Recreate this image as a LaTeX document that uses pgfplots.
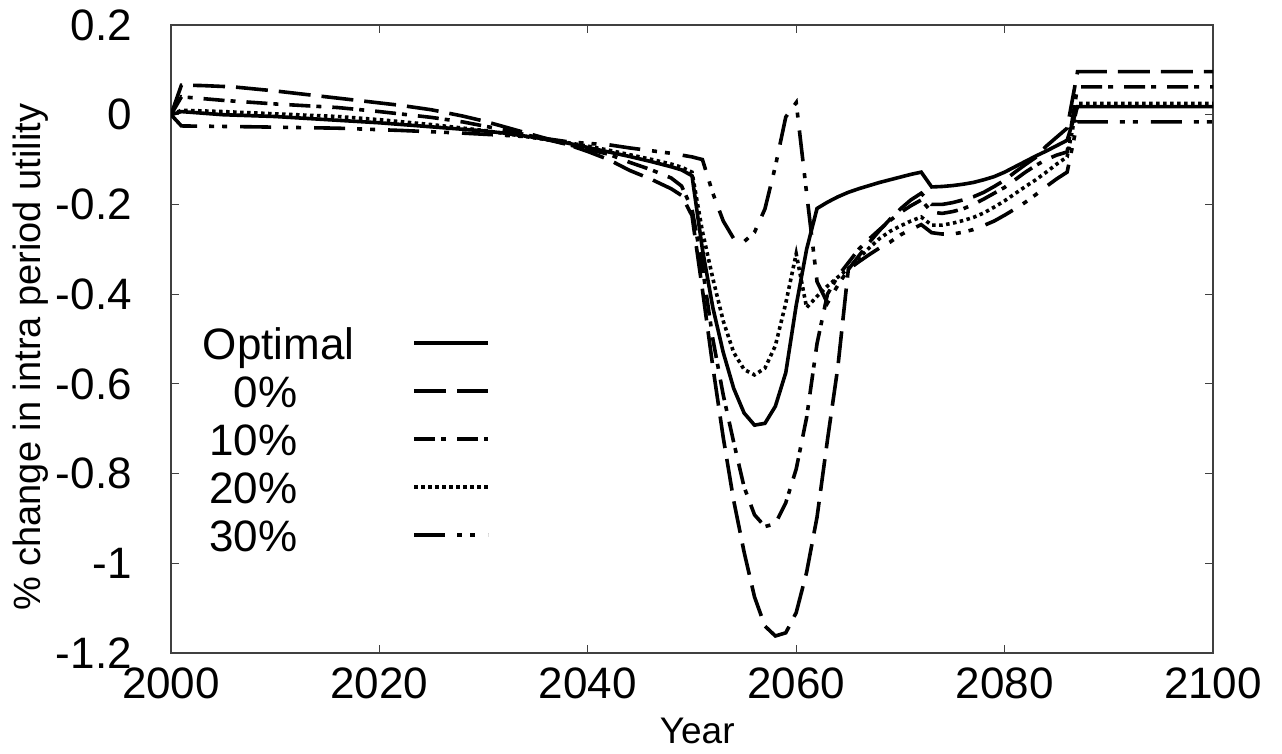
\documentclass[border=0pt]{standalone}
\usepackage{fontspec}
\setmainfont{Liberation Sans}
\usepackage{pgfplots}
\pgfplotsset{compat=1.18}

\begin{document}
\begin{tikzpicture}
\begin{axis}[
  at={(171pt,-653pt)}, anchor=south west,
  width=1042pt, height=628pt, scale only axis,
  xmin=2000, xmax=2100, ymin=-1.2, ymax=0.2,
  xtick={2000,2020,2040,2060,2080,2100},
  xticklabels={2000,2020,2040,2060,2080,2100},
  ytick={-1.2,-1,-0.8,-0.6,-0.4,-0.2,0,0.2},
  yticklabels={-1.2,-1,-0.8,-0.6,-0.4,-0.2,0,0.2},
  tick align=inside,
  major tick length=8pt,
  tick style={line width=1.2pt, black!75},
  axis line style={line width=1.5pt, black!75},
  xticklabel style={font=\fontsize{44}{50}\selectfont, inner sep=0pt, yshift=-15pt},
  yticklabel style={font=\fontsize{44}{50}\selectfont, inner sep=0pt, xshift=-39pt},
  xlabel={Year},
  ylabel={\% change in intra period utility},
  xlabel style={font=\fontsize{37}{42}\selectfont, at={(axis description cs:0.505,-0.1245)}, anchor=center, inner sep=0pt},
  ylabel style={font=\fontsize{38}{44}\selectfont, at={(axis description cs:-0.135,0.471)}, anchor=center, inner sep=0pt},
  legend cell align=right,
  legend plot pos=right,
  legend image code/.code={\path (0pt,0pt); \draw[#1] (58pt,7pt) -- (132pt,7pt);},
  legend style={draw=none, fill=none, inner sep=0pt, outer sep=0pt,
    row sep=0pt, column sep=0pt,
    at={(axis description cs:0.0307,0.5207)}, anchor=north west,
    font=\fontsize{44}{50}\selectfont,
    nodes={inner sep=0pt, text height=33pt, text depth=15pt}},
]
% Optimal
\addplot[black, line width=3.6pt] coordinates {
(2000,0) (2001,0.007) (2005,0.0) (2010,-0.004) (2015,-0.011) (2020,-0.018)
(2025,-0.027) (2030,-0.036) (2032,-0.041) (2035,-0.051) (2038,-0.063)
(2040,-0.073) (2042,-0.083) (2044,-0.093) (2046,-0.104) (2048,-0.116) (2049,-0.123)
(2050,-0.136) (2051,-0.30) (2052,-0.43) (2053,-0.53) (2054,-0.61) (2055,-0.665)
(2056,-0.692) (2057,-0.688) (2058,-0.65) (2059,-0.575) (2060,-0.425) (2061,-0.30)
(2062,-0.209) (2063,-0.195) (2064,-0.183) (2065,-0.173) (2066,-0.165) (2067,-0.158)
(2068,-0.151) (2069,-0.145) (2070,-0.139) (2071,-0.133) (2072,-0.128) (2073,-0.161)
(2074,-0.160) (2075,-0.158) (2076,-0.155) (2077,-0.151) (2078,-0.145) (2079,-0.138)
(2080,-0.128) (2081,-0.116) (2082,-0.104) (2083,-0.092) (2084,-0.081) (2085,-0.069)
(2086,-0.057) (2087,0.018) (2100,0.018)
};
\addlegendentry{Optimal}
% 0%
\addplot[black, line width=3.6pt, dash pattern=on 32pt off 11pt] coordinates {
(2000,0) (2001,0.066) (2003,0.065) (2006,0.062) (2010,0.053) (2016,0.037) (2019,0.029)
(2022,0.021) (2025,0.011) (2028,-0.003) (2030,-0.014) (2032,-0.027) (2034,-0.040)
(2036,-0.053) (2038,-0.066) (2040,-0.082) (2042,-0.100) (2044,-0.124) (2046,-0.143)
(2048,-0.165) (2049,-0.180) (2050,-0.225) (2051,-0.39) (2052,-0.562) (2053,-0.72)
(2054,-0.86) (2055,-0.975) (2056,-1.075) (2057,-1.14) (2058,-1.162) (2059,-1.155)
(2060,-1.11) (2061,-1.02) (2062,-0.897) (2063,-0.725) (2064,-0.562) (2065,-0.345)
(2066,-0.315) (2067,-0.285) (2068,-0.258) (2069,-0.233) (2070,-0.21) (2071,-0.19)
(2072,-0.175) (2073,-0.2) (2074,-0.2) (2075,-0.196) (2076,-0.19) (2077,-0.183)
(2078,-0.173) (2079,-0.16) (2080,-0.146) (2081,-0.128) (2082,-0.111) (2083,-0.095)
(2084,-0.07) (2085,-0.05) (2086,-0.03) (2087,0.096) (2100,0.096)
};
\addlegendentry{0\%\hspace*{57pt}}
% 10%
\addplot[black, line width=3.6pt, dash pattern=on 21pt off 6pt on 5pt off 11pt] coordinates {
(2000,0) (2001,0.04) (2005,0.032) (2010,0.024) (2016,0.016) (2020,0.007) (2025,-0.006)
(2028,-0.016) (2032,-0.034) (2036,-0.055) (2038,-0.066) (2040,-0.077) (2042,-0.088)
(2044,-0.106) (2046,-0.122) (2048,-0.141) (2049,-0.159) (2050,-0.21) (2051,-0.34)
(2052,-0.50) (2053,-0.625) (2054,-0.73) (2055,-0.83) (2056,-0.892) (2057,-0.918)
(2058,-0.912) (2059,-0.865) (2060,-0.79) (2061,-0.675) (2062,-0.51) (2063,-0.40)
(2064,-0.36) (2065,-0.33) (2066,-0.30) (2067,-0.277) (2068,-0.256) (2069,-0.236)
(2070,-0.218) (2071,-0.203) (2072,-0.19) (2073,-0.217) (2074,-0.22) (2075,-0.216)
(2076,-0.21) (2077,-0.2) (2078,-0.188) (2079,-0.175) (2080,-0.162) (2081,-0.145)
(2082,-0.128) (2083,-0.113) (2084,-0.1) (2085,-0.09) (2086,-0.083) (2087,0.062) (2100,0.062)
};
\addlegendentry{10\%\hspace*{57pt}}
% 20%
\addplot[black, line width=3.6pt, dash pattern=on 3.5pt off 3.5pt] coordinates {
(2000,0) (2001,0.01) (2005,0.007) (2010,0.002) (2016,-0.004) (2020,-0.011) (2025,-0.022)
(2030,-0.035) (2035,-0.052) (2038,-0.062) (2040,-0.07) (2042,-0.079) (2044,-0.089)
(2046,-0.099) (2048,-0.11) (2049,-0.117) (2050,-0.128) (2051,-0.26) (2052,-0.365)
(2053,-0.46) (2054,-0.53) (2055,-0.568) (2056,-0.58) (2057,-0.565) (2058,-0.515)
(2059,-0.42) (2060,-0.31) (2061,-0.43) (2062,-0.405) (2063,-0.382) (2064,-0.362)
(2065,-0.343) (2066,-0.32) (2067,-0.297) (2068,-0.276) (2069,-0.26) (2070,-0.248)
(2071,-0.237) (2072,-0.228) (2073,-0.246) (2074,-0.246) (2075,-0.242) (2076,-0.236)
(2077,-0.229) (2078,-0.219) (2079,-0.206) (2080,-0.192) (2081,-0.176) (2082,-0.16)
(2083,-0.145) (2084,-0.128) (2085,-0.11) (2086,-0.094) (2087,0.025) (2100,0.025)
};
\addlegendentry{20\%\hspace*{57pt}}
% 30%
\addplot[black, line width=3.6pt, dash pattern=on 31pt off 12pt on 5pt off 8pt on 5pt off 13pt] coordinates {
(2000,0) (2001,-0.025) (2008,-0.027) (2016,-0.03) (2022,-0.035) (2028,-0.041)
(2032,-0.046) (2035,-0.05) (2038,-0.06) (2040,-0.064) (2042,-0.067) (2044,-0.074)
(2046,-0.08) (2048,-0.086) (2050,-0.094) (2051,-0.1) (2052,-0.175) (2053,-0.237)
(2054,-0.276) (2055,-0.283) (2056,-0.262) (2057,-0.21) (2058,-0.115) (2059,-0.005)
(2060,0.027) (2061,-0.175) (2062,-0.372) (2063,-0.42) (2064,-0.38) (2065,-0.345)
(2066,-0.328) (2067,-0.312) (2068,-0.297) (2069,-0.284) (2070,-0.268) (2071,-0.256)
(2072,-0.245) (2073,-0.263) (2074,-0.266) (2075,-0.266) (2076,-0.262) (2077,-0.256)
(2078,-0.247) (2079,-0.237) (2080,-0.224) (2081,-0.21) (2082,-0.195) (2083,-0.178)
(2084,-0.16) (2085,-0.143) (2086,-0.128) (2087,-0.016) (2100,-0.016)
};
\addlegendentry{30\%\hspace*{57pt}}
\end{axis}
\pgfresetboundingbox
\useasboundingbox (0pt,0pt) rectangle (1282pt,-753pt);
\end{tikzpicture}
\end{document}
